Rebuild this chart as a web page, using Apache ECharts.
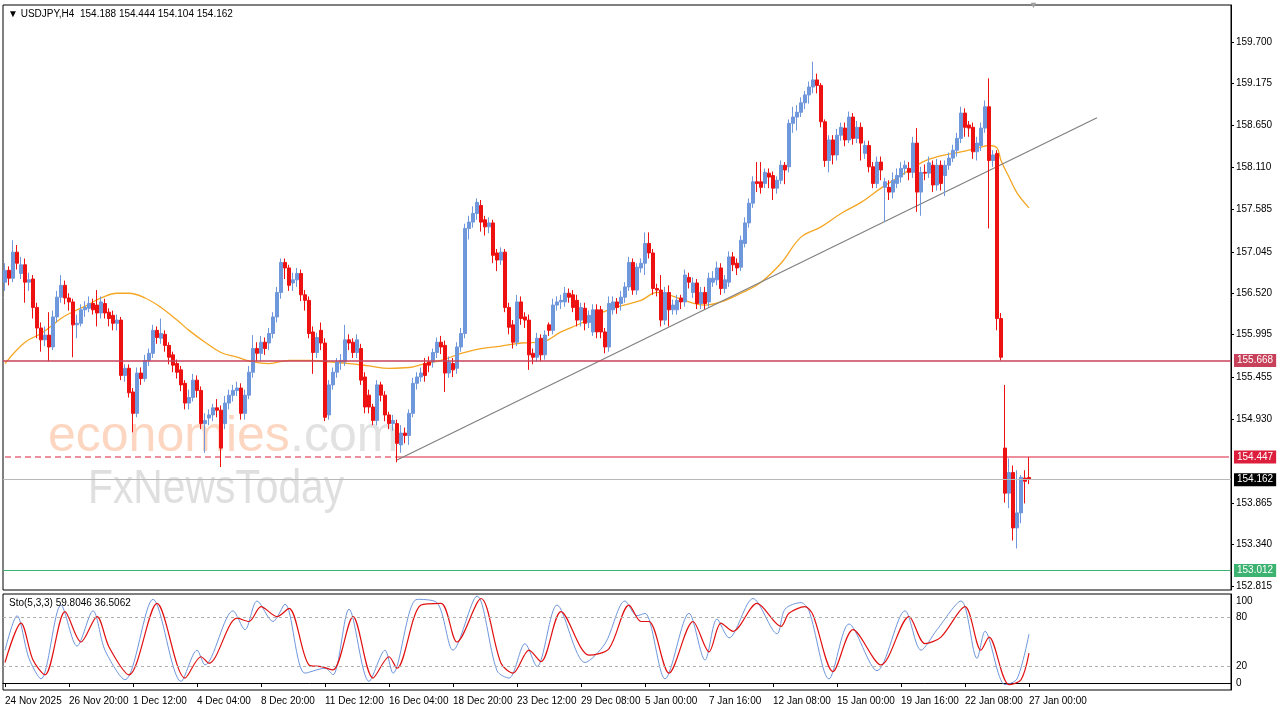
<!DOCTYPE html>
<html><head><meta charset="utf-8">
<script src="https://cdn.jsdelivr.net/npm/echarts@6/dist/echarts.min.js"></script>
<style>html,body{margin:0;padding:0;background:#fff}#c{width:1280px;height:720px}</style>
</head><body><div id="c"></div>
<script>
const tickLabels=['24 Nov 2025','26 Nov 20:00','1 Dec 12:00','4 Dec 04:00','8 Dec 20:00','11 Dec 12:00','16 Dec 04:00','18 Dec 20:00','23 Dec 12:00','29 Dec 08:00','5 Jan 00:00','7 Jan 16:00','12 Jan 08:00','15 Jan 00:00','19 Jan 16:00','22 Jan 08:00','27 Jan 00:00'];
const priceTicks=[159.700,159.175,158.650,158.110,157.585,157.045,156.520,155.995,155.455,154.930,153.865,153.340,152.815];
const stochTicks=[0,20,80,100];
const opens=[156.66,156.81,156.71,157.04,156.77,156.88,156.66,156.70,156.34,156.08,
155.93,155.99,155.84,156.22,156.47,156.62,156.46,156.41,156.12,156.14,
156.31,156.33,156.39,156.37,156.27,156.39,156.28,156.24,156.14,156.18,
155.48,155.57,155.27,155.00,155.51,155.44,155.67,155.76,156.05,155.95,
156.00,155.86,155.74,155.63,155.55,155.38,155.13,155.20,155.42,155.29,
154.87,154.94,154.98,155.07,155.04,154.87,155.13,155.23,155.29,155.32,
155.00,155.23,155.52,155.82,155.76,155.90,155.89,156.01,156.22,156.53,
156.91,156.84,156.65,156.69,156.77,156.50,156.43,156.03,155.77,156.05,
155.89,154.98,155.36,155.52,155.65,155.65,155.93,155.90,155.77,155.82,
155.46,155.23,155.08,154.91,155.36,155.23,154.98,154.87,154.87,154.60,
154.75,154.72,155.00,155.38,155.46,155.63,155.65,155.65,155.77,155.90,
155.86,155.51,155.63,155.57,155.84,156.01,157.34,157.42,157.53,157.63,
157.45,157.36,157.41,157.03,156.94,157.04,156.34,156.12,155.90,156.41,
156.22,156.18,155.76,155.71,155.95,155.74,156.12,156.05,156.37,156.41,
156.41,156.52,156.50,156.43,156.18,156.33,156.15,156.03,156.31,156.31,
156.03,155.84,156.31,156.41,156.39,156.47,156.60,156.91,156.56,156.84,
156.90,157.15,157.03,156.58,156.56,156.18,156.53,156.31,156.31,156.46,
156.41,156.72,156.53,156.65,156.39,156.53,156.41,156.66,156.69,156.84,
156.58,156.66,156.98,156.90,156.85,157.15,157.41,157.66,157.93,157.93,
157.91,158.04,158.01,157.85,157.95,158.14,158.12,158.67,158.75,158.81,
158.93,159.03,159.13,159.22,159.15,158.69,158.20,158.46,158.27,158.52,
158.61,158.46,158.75,158.48,158.62,158.29,158.39,158.12,157.91,158.18,
157.86,157.86,157.80,157.91,157.99,158.10,158.10,158.05,158.42,157.80,
158.05,158.04,158.14,157.89,158.14,158.01,158.14,158.23,158.33,158.48,
158.80,158.65,158.62,158.31,158.39,158.61,158.88,158.20,158.29,156.20,
154.56,153.99,154.25,153.55,153.74,154.18,154.188];
const closes=[156.81,156.71,157.04,156.90,156.88,156.66,156.69,156.34,156.08,155.93,
155.99,155.84,156.22,156.47,156.62,156.46,156.41,156.12,156.14,156.31,
156.34,156.39,156.31,156.27,156.41,156.27,156.20,156.14,156.18,155.48,
155.57,155.26,155.00,155.51,155.44,155.67,155.76,156.05,155.96,156.01,
155.86,155.71,155.61,155.52,155.36,155.13,155.20,155.42,155.29,154.87,
154.91,154.98,155.07,155.04,154.56,155.13,155.23,155.29,155.32,155.00,
155.23,155.52,155.82,155.76,155.90,155.82,156.01,156.22,156.53,156.91,
156.84,156.62,156.69,156.77,156.50,156.43,156.01,155.77,155.96,155.89,
154.95,155.36,155.52,155.65,155.67,155.93,155.89,155.77,155.93,155.42,
155.08,155.08,154.91,155.36,155.23,154.98,154.87,154.91,154.62,154.75,
154.72,155.00,155.38,155.46,155.51,155.48,155.61,155.77,155.90,155.84,
155.51,155.65,155.55,155.84,156.01,157.34,157.42,157.53,157.67,157.42,
157.36,157.41,157.00,156.94,157.04,156.34,156.09,155.90,156.41,156.20,
156.18,155.74,155.71,155.95,155.74,155.99,156.05,156.37,156.41,156.43,
156.52,156.47,156.34,156.18,156.34,156.14,156.24,156.31,156.03,156.03,
155.84,156.39,156.41,156.34,156.47,156.60,156.91,156.56,156.85,156.90,
157.15,157.03,156.58,156.56,156.18,156.53,156.31,156.37,156.43,156.41,
156.75,156.66,156.65,156.39,156.53,156.39,156.71,156.71,156.84,156.58,
156.69,156.98,156.88,156.84,157.19,157.41,157.66,157.93,157.91,157.86,
158.05,157.99,157.85,157.95,158.14,158.08,158.67,158.75,158.81,158.93,
159.03,159.13,159.22,159.15,158.69,158.20,158.46,158.27,158.52,158.62,
158.46,158.75,158.48,158.62,158.42,158.39,158.12,157.91,158.18,158.08,
157.93,157.80,157.95,158.01,158.10,158.14,158.05,158.42,157.80,158.05,
158.04,158.17,157.89,158.14,157.91,158.14,158.23,158.33,158.48,158.80,
158.62,158.61,158.31,158.42,158.61,158.88,158.20,158.27,156.20,155.71,
153.99,154.25,153.55,153.74,154.19,154.14,154.162];
const lows=[156.55,156.62,156.66,156.82,156.70,156.40,156.55,156.20,155.95,155.78,
155.85,155.66,155.80,156.15,156.40,156.38,156.30,155.71,155.95,156.10,
156.22,156.28,156.25,156.10,156.20,156.20,156.10,156.05,156.05,155.42,
155.40,155.20,154.76,154.95,155.36,155.40,155.60,155.70,155.88,155.88,
155.78,155.62,155.52,155.44,155.28,155.05,155.05,155.15,155.20,154.80,
154.50,154.85,154.90,154.95,154.32,154.80,155.05,155.15,155.22,154.92,
154.92,155.18,155.45,155.66,155.66,155.74,155.80,155.95,156.15,156.45,
156.70,156.55,156.55,156.60,156.42,156.30,155.95,155.50,155.70,155.80,
154.90,154.92,155.30,155.45,155.55,155.60,155.80,155.70,155.70,155.36,
155.00,155.00,154.85,154.85,155.15,154.90,154.80,154.78,154.38,154.50,
154.62,154.60,154.95,155.30,155.40,155.40,155.52,155.58,155.70,155.75,
155.27,155.45,155.46,155.50,155.78,155.95,157.20,157.35,157.45,157.30,
157.25,157.28,156.90,156.80,156.88,156.28,156.00,155.82,155.85,156.12,
156.08,155.55,155.62,155.65,155.66,155.68,155.98,156.00,156.30,156.32,
156.35,156.40,156.28,156.10,156.10,156.05,156.08,155.98,155.95,155.95,
155.76,155.78,156.25,156.26,156.30,156.40,156.55,156.50,156.50,156.78,
156.75,156.96,156.50,156.48,156.10,156.12,156.10,156.25,156.25,156.32,
156.35,156.58,156.46,156.32,156.32,156.32,156.35,156.60,156.62,156.50,
156.52,156.60,156.80,156.75,156.80,157.10,157.35,157.60,157.80,157.78,
157.85,157.85,157.70,157.78,157.90,157.90,158.05,158.55,158.58,158.75,
158.85,158.92,159.05,159.05,158.62,158.12,158.05,158.15,158.20,158.45,
158.38,158.42,158.40,158.42,158.20,158.22,158.05,157.85,157.85,157.95,
157.42,157.70,157.72,157.85,157.92,158.02,157.95,157.98,157.55,157.50,
157.95,157.98,157.80,157.82,157.82,157.75,158.08,158.18,158.25,158.42,
158.50,158.50,158.22,158.20,158.32,158.55,157.34,158.12,156.05,155.67,
153.87,153.80,153.39,153.29,153.61,153.86,154.104];
const highs=[156.90,156.86,157.19,157.13,156.98,156.96,156.78,156.75,156.40,156.15,
156.10,156.28,156.30,156.55,156.75,156.68,156.52,156.45,156.25,156.38,
156.42,156.48,156.45,156.56,156.48,156.45,156.33,156.30,156.25,156.22,
155.62,155.62,155.32,155.58,155.58,155.74,155.82,156.12,156.10,156.20,
156.05,155.90,155.78,155.68,155.60,155.42,155.30,155.50,155.48,155.34,
155.00,155.05,155.12,155.18,155.10,155.22,155.30,155.36,155.40,155.38,
155.30,155.60,155.99,155.90,155.98,155.96,156.08,156.28,156.60,156.96,
156.96,156.88,156.78,156.84,156.82,156.56,156.48,156.10,156.02,156.15,
155.95,155.42,155.58,155.70,155.75,156.12,156.00,155.95,156.00,155.88,
155.52,155.30,155.12,155.42,155.40,155.28,155.02,154.98,154.92,154.85,
154.82,155.05,155.45,155.52,155.58,155.70,155.72,155.82,155.96,155.98,
155.92,155.72,155.70,155.90,156.08,157.40,157.50,157.62,157.72,157.70,
157.50,157.48,157.45,157.08,157.10,157.08,156.40,156.18,156.50,156.48,
156.28,156.25,155.82,156.02,156.00,156.05,156.15,156.45,156.48,156.50,
156.60,156.58,156.56,156.50,156.40,156.40,156.30,156.38,156.38,156.36,
156.08,156.48,156.48,156.46,156.55,156.66,156.98,156.96,156.90,156.96,
157.29,157.29,157.08,156.64,156.75,156.60,156.62,156.44,156.50,156.50,
156.82,156.78,156.72,156.70,156.60,156.60,156.78,156.80,156.92,156.90,
156.75,157.05,157.04,156.96,157.25,157.48,157.72,158.00,158.18,158.18,
158.10,158.10,158.06,158.00,158.20,158.18,158.72,158.88,158.90,159.00,
159.08,159.20,159.45,159.30,159.18,158.72,158.52,158.52,158.60,158.68,
158.68,158.82,158.80,158.70,158.68,158.45,158.45,158.18,158.25,158.25,
157.98,157.95,158.05,158.10,158.18,158.20,158.18,158.50,158.61,158.12,
158.15,158.25,158.20,158.22,158.20,158.20,158.30,158.40,158.55,158.88,
158.86,158.70,158.68,158.50,158.68,158.96,159.24,158.33,158.33,156.27,
155.36,154.43,154.34,154.28,154.22,154.28,154.444];
const maPoints=[[0,155.63],[5,155.90],[9,156.01],[14,156.20],[16,156.26],[21,156.38],[24,156.46],[28,156.52],[31,156.52],[35,156.46],[39,156.34],[43,156.18],[46,156.05],[50,155.90],[54,155.77],[58,155.71],[62,155.65],[66,155.63],[71,155.67],[76,155.67],[81,155.65],[86,155.63],[91,155.60],[96,155.57],[101,155.58],[105,155.63],[109,155.67],[113,155.74],[115,155.77],[119,155.82],[124,155.85],[129,155.89],[134,155.90],[139,156.03],[144,156.14],[149,156.27],[154,156.36],[159,156.43],[163,156.53],[166,156.50],[171,156.41],[175,156.37],[179,156.41],[184,156.52],[189,156.66],[194,156.90],[199,157.23],[204,157.36],[209,157.53],[214,157.67],[219,157.85],[224,158.01],[229,158.17],[234,158.26],[239,158.31],[244,158.37],[246,158.39],[248,158.36],[249,158.20],[251,157.99],[253,157.79],[256,157.60]];
const trendPoints=[[98,154.41],[273,158.74]];
const stochK=[[0,40],[3,82],[6,30],[9,5],[14,95],[18,45],[22,88],[25,40],[30,4],[37,102],[44,2],[48,40],[50,22],[57,88],[60,65],[63,100],[67,75],[70,96],[75,12],[80,18],[82,10],[86,90],[91,2],[95,40],[97,12],[103,102],[108,98],[112,40],[118,106],[123,15],[126,6],[130,48],[133,20],[138,95],[145,25],[150,48],[155,100],[158,82],[160,85],[165,5],[171,85],[175,28],[178,78],[181,55],[187,103],[193,60],[195,90],[199,98],[201,88],[206,5],[211,72],[218,15],[225,88],[229,40],[233,65],[239,100],[243,30],[245,63],[250,-2],[253,5],[256,59.8]];
const stochD=[[0,25],[4,73],[7,28],[10,10],[15,87],[19,50],[23,81],[26,44],[31,10],[38,97],[45,6],[49,32],[51,24],[58,79],[61,75],[64,93],[68,81],[71,91],[76,22],[79,20],[82,16],[87,81],[92,6],[96,32],[98,18],[104,95],[109,97],[113,50],[119,103],[124,24],[127,12],[131,40],[134,26],[139,87],[146,34],[151,42],[156,95],[159,75],[161,75],[166,12],[172,75],[176,38],[179,73],[182,63],[188,97],[194,69],[196,85],[200,93],[202,83],[207,14],[212,65],[219,22],[226,81],[230,48],[234,56],[240,93],[244,40],[246,56],[251,-2],[254,4],[256,36.5]];
const levels={res:155.668,mid:154.447,cur:154.162,sup:153.012};
const midSolid=[[98,154.447],[306,154.447]];
const midDashed=[[0,154.447],[98,154.447]];

const N=307;
const categories=[];
for(let i=0;i<N;i++){categories.push(i%16===0&&i/16<tickLabels.length?tickLabels[i/16]:'');}
const candles=opens.map((o,i)=>[o,closes[i],lows[i],highs[i]]);
const isTick=(idx)=>idx%16===0&&idx<=256;
const F='Liberation Sans';
const chart=echarts.init(document.getElementById('c'),null,{renderer:'canvas'});
const lbl=(t,bg,fg)=>({show:true,position:'end',distance:3,formatter:t,backgroundColor:bg,color:fg,fontFamily:F,fontSize:10,padding:[2,3,1,3]});
chart.setOption({
  animation:false,backgroundColor:'#fff',
  grid:[{left:3,right:49,top:5,height:585,show:true,borderColor:'#000',borderWidth:1},
        {left:3,right:49,top:594,height:96,show:true,borderColor:'#000',borderWidth:1}],
  xAxis:[{type:'category',data:categories,gridIndex:0,boundaryGap:true,axisLine:{show:false},axisTick:{show:false},axisLabel:{show:false},splitLine:{show:false}},
         {type:'category',data:categories,gridIndex:1,boundaryGap:true,axisLine:{show:true,lineStyle:{color:'#000'}},
          axisTick:{show:true,interval:isTick,alignWithLabel:true,length:4,lineStyle:{color:'#000'}},
          axisLabel:{show:true,interval:isTick,align:'left',fontFamily:F,fontSize:10,color:'#000',margin:6},splitLine:{show:false}}],
  yAxis:[{type:'value',gridIndex:0,position:'right',min:152.764,max:160.168,scale:true,
          axisLine:{show:true,lineStyle:{color:'#000'}},splitLine:{show:false},
          axisTick:{show:true,length:3,customValues:priceTicks,lineStyle:{color:'#000'}},
          axisLabel:{customValues:priceTicks,formatter:v=>v.toFixed(3),fontFamily:F,fontSize:10,color:'#000',margin:5}},
         {type:'value',gridIndex:1,position:'right',min:-8.5,max:108.5,
          axisLine:{show:true,lineStyle:{color:'#000'}},splitLine:{show:false},
          axisTick:{show:false},
          axisLabel:{customValues:stochTicks,formatter:v=>String(v),fontFamily:F,fontSize:10,color:'#000',margin:5}}],
  series:[
    {type:'candlestick',xAxisIndex:0,yAxisIndex:0,data:candles,barWidth:3,z:4,
     itemStyle:{color:'#6f97dc',color0:'#ee1111',borderColor:'#6f97dc',borderColor0:'#ee1111',borderWidth:1},
     markLine:{silent:true,symbol:'none',animation:false,
      data:[
       {yAxis:levels.res,lineStyle:{color:'#c8415a',width:1.5,type:'solid'},label:lbl('155.668','#c8415a','#fff')},
       {yAxis:levels.cur,lineStyle:{color:'#b8b8b8',width:1,type:'solid'},label:lbl('154.162','#000','#fff')},
       {yAxis:levels.sup,lineStyle:{color:'#3cb371',width:1,type:'solid'},label:lbl('153.012','#3cb371','#fff')}
      ]}},
    {type:'line',xAxisIndex:0,yAxisIndex:0,data:midDashed,showSymbol:false,silent:true,lineStyle:{color:'#dc1e3c',width:1.2,type:[6,4]},z:2},
    {type:'line',xAxisIndex:0,yAxisIndex:0,data:midSolid,showSymbol:false,silent:true,lineStyle:{color:'#dc1e3c',width:1.2},z:2,
     endLabel:{show:true,formatter:'154.447',distance:5,backgroundColor:'#dc1e3c',color:'#fff',fontFamily:F,fontSize:10,padding:[2,3,1,3]}},
    {type:'line',xAxisIndex:0,yAxisIndex:0,data:maPoints,smooth:0.4,showSymbol:false,connectNulls:true,lineStyle:{color:'#f5a623',width:1.3},z:3},
    {type:'line',xAxisIndex:0,yAxisIndex:0,data:trendPoints,showSymbol:false,lineStyle:{color:'#808080',width:1.2},z:3},
    {type:'line',xAxisIndex:1,yAxisIndex:1,data:stochK,smooth:0.3,showSymbol:false,lineStyle:{color:'#6f97dc',width:1},
     markLine:{silent:true,symbol:'none',label:{show:false},lineStyle:{color:'#b0b0b0',type:[3,3],width:1},data:[{yAxis:80},{yAxis:20}]}},
    {type:'line',xAxisIndex:1,yAxisIndex:1,data:stochD,smooth:0.3,showSymbol:false,lineStyle:{color:'#e01010',width:1.2}}
  ],
  graphic:[
    {type:'text',left:8,top:9,z:100,style:{text:'▼ USDJPY,H4  154.188 154.444 154.104 154.162',fontFamily:F,fontSize:10,fill:'#000'}},
    {type:'text',left:9,top:598,z:100,style:{text:'Sto(5,3,3) 59.8046 36.5062',fontFamily:F,fontSize:10,fill:'#000'}},
    {type:'text',left:1029,top:1,z:100,style:{text:'▼',fontSize:9,fill:'#a0a0a0'}},
    {type:'text',left:48,top:412,z:0,style:{text:'economies',fontFamily:F,fontSize:50,fill:'rgba(249,180,140,0.55)'}},
    {type:'text',left:290,top:412,z:0,style:{text:'.com',fontFamily:F,fontSize:50,fill:'rgba(190,190,190,0.45)'}},
    {type:'text',left:88,top:466,z:0,scaleX:0.85,style:{text:'FxNewsToday',fontFamily:F,fontSize:48,fill:'rgba(185,185,185,0.45)'}}
  ]
});
</script></body></html>
